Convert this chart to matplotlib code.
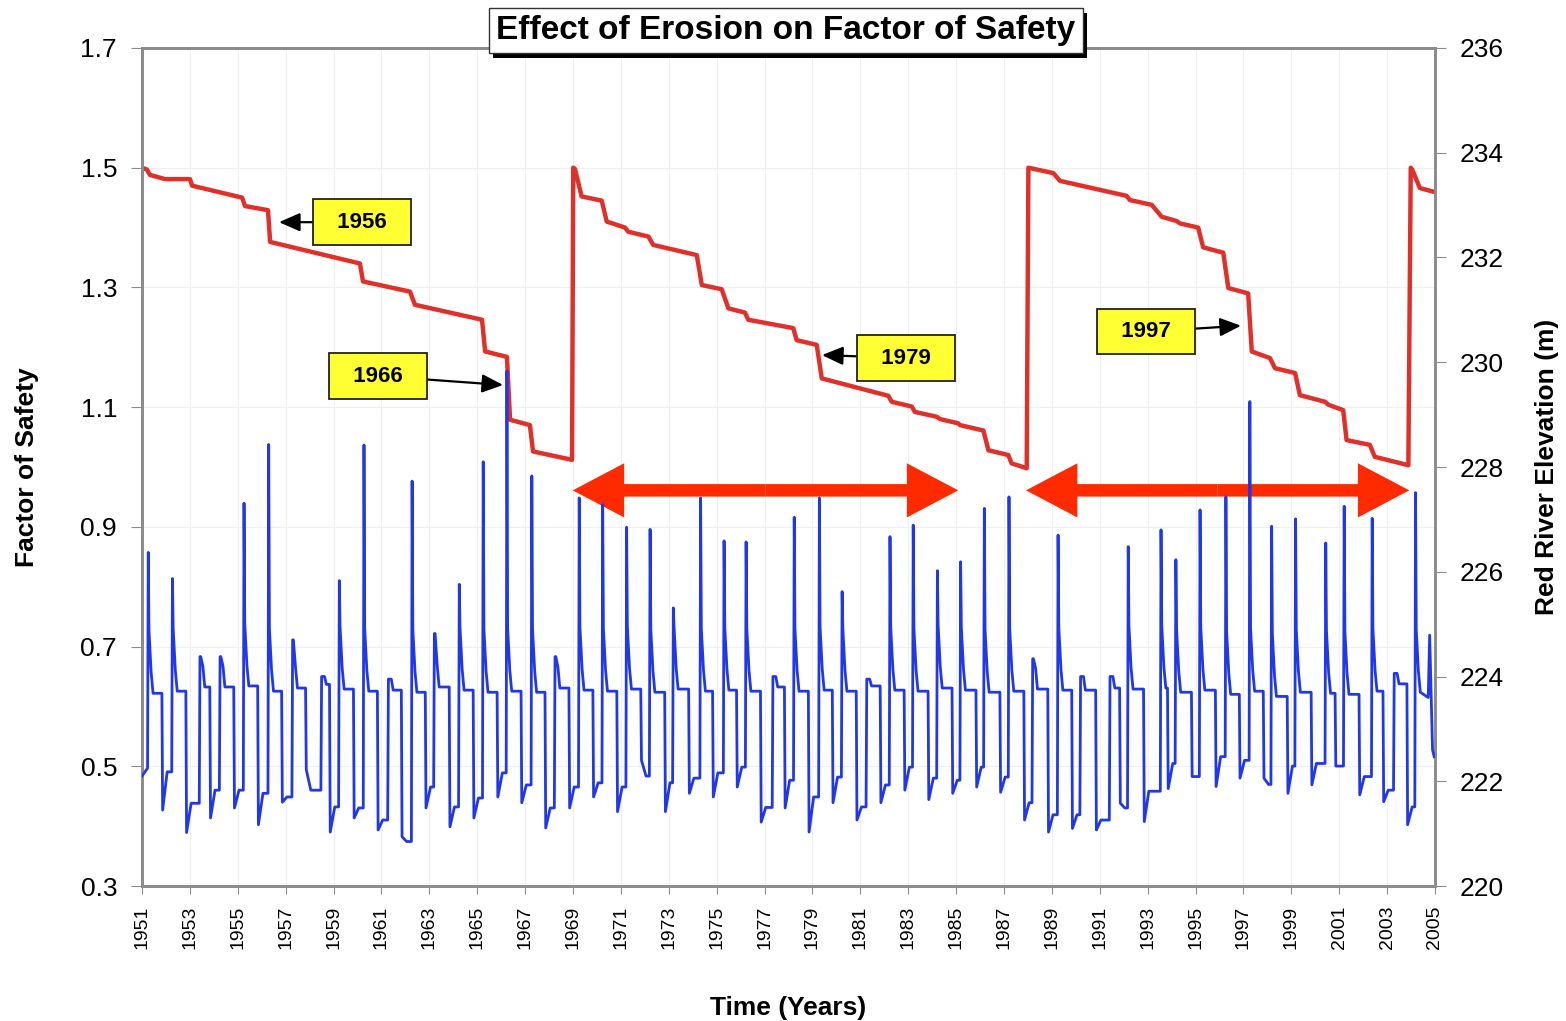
import numpy as np
import matplotlib
matplotlib.use('Agg')
import matplotlib.pyplot as plt
import matplotlib.patheffects as pe

plt.rcParams['font.family'] = ['Liberation Sans', 'DejaVu Sans']

# factor of safety (red line, left axis)
fos_years = [1951.00, 1951.20, 1951.33, 1951.96, 1953.00, 1953.09, 1955.18, 1955.30, 1956.26, 1956.35,
             1960.10, 1960.23, 1962.19, 1962.40, 1965.20, 1965.33, 1966.24, 1966.37, 1967.20, 1967.33,
             1968.96, 1969.01, 1969.08, 1969.36, 1970.20, 1970.41, 1971.17, 1971.31, 1972.15, 1972.35,
             1974.17, 1974.38, 1975.21, 1975.49, 1976.18, 1976.32, 1978.20, 1978.34, 1979.18, 1979.39,
             1982.17, 1982.31, 1983.15, 1983.28, 1984.19, 1984.33, 1985.09, 1985.16, 1986.14, 1986.35,
             1987.18, 1987.32, 1987.95, 1988.02, 1989.06, 1989.34, 1992.12, 1992.26, 1993.17, 1993.59,
             1994.21, 1994.35, 1995.11, 1995.32, 1996.16, 1996.37, 1997.20, 1997.35, 1998.11, 1998.32,
             1999.16, 1999.36, 2000.41, 2000.55, 2001.17, 2001.31, 2002.28, 2002.49, 2003.89, 2003.99,
             2004.05, 2004.37, 2004.93]
fos_values = [1.500, 1.497, 1.488, 1.481, 1.481, 1.470, 1.450, 1.436, 1.429, 1.376,
              1.340, 1.310, 1.293, 1.271, 1.246, 1.193, 1.184, 1.079, 1.070, 1.026,
              1.012, 1.500, 1.498, 1.452, 1.445, 1.410, 1.400, 1.393, 1.385, 1.371,
              1.354, 1.304, 1.297, 1.265, 1.258, 1.246, 1.232, 1.212, 1.204, 1.148,
              1.119, 1.109, 1.101, 1.092, 1.084, 1.080, 1.073, 1.070, 1.061, 1.028,
              1.020, 1.006, 0.998, 1.500, 1.491, 1.478, 1.453, 1.446, 1.438, 1.418,
              1.411, 1.407, 1.400, 1.367, 1.358, 1.299, 1.290, 1.193, 1.182, 1.165,
              1.157, 1.120, 1.109, 1.104, 1.095, 1.045, 1.037, 1.017, 1.003, 1.500,
              1.497, 1.466, 1.460]

# Red River elevation (blue line, right axis): one flood season per year
flood_years = list(range(1951, 2005))
peak_time = [1951.26, 1952.27, 1953.42, 1954.26, 1955.26, 1956.29, 1957.29, 1958.50, 1959.24, 1960.27,
             1961.29, 1962.28, 1963.21, 1964.25, 1965.25, 1966.24, 1967.28, 1968.25, 1969.26, 1970.24,
             1971.24, 1972.22, 1973.19, 1974.33, 1975.31, 1976.23, 1977.35, 1978.24, 1979.29, 1980.24,
             1981.27, 1982.24, 1983.21, 1984.22, 1985.19, 1986.18, 1987.21, 1988.20, 1989.26, 1990.20,
             1991.43, 1992.19, 1993.56, 1994.18, 1995.19, 1996.27, 1997.27, 1998.18, 1999.18, 2000.44,
             2001.21, 2002.38, 2003.30, 2004.19]
peak_elev = [226.37, 225.87, 224.38, 224.38, 227.31, 228.43, 224.70, 224.00, 225.83, 228.42,
             223.95, 227.73, 224.82, 225.76, 228.10, 229.83, 227.83, 224.38, 227.41, 227.28,
             226.85, 226.81, 225.31, 227.41, 226.59, 226.57, 224.00, 227.04, 227.41, 225.62,
             223.95, 226.67, 226.89, 226.02, 226.19, 227.21, 227.43, 224.34, 226.70, 224.00,
             224.00, 226.48, 226.80, 226.23, 227.18, 227.43, 229.25, 226.87, 227.01, 226.55,
             227.25, 227.02, 224.06, 227.51]
summer_elev = [223.68, 223.72, 223.80, 223.80, 223.82, 223.72, 223.78, 223.85, 223.76, 223.72,
               223.74, 223.70, 223.80, 223.74, 223.70, 223.72, 223.70, 223.78, 223.74, 223.72,
               223.76, 223.70, 223.76, 223.72, 223.74, 223.72, 223.80, 223.72, 223.74, 223.72,
               223.82, 223.74, 223.72, 223.78, 223.74, 223.70, 223.72, 223.76, 223.74, 223.74,
               223.78, 223.76, 223.78, 223.70, 223.74, 223.66, 223.72, 223.62, 223.70, 223.68,
               223.66, 223.72, 223.86, 223.70]
# level just after the autumn drop (1951 ... 2003)
fall_low = [221.45, 221.02, 221.30, 221.49, 221.17, 221.60, 222.22, 221.03, 221.30, 221.07,
            220.94, 221.49, 221.13, 221.30, 221.70, 221.59, 221.11, 221.49, 221.70, 221.42,
            222.40, 221.42, 221.77, 221.70, 221.89, 221.22, 221.49, 221.03, 221.59, 221.26,
            221.59, 221.83, 221.65, 221.77, 221.89, 221.79, 221.26, 221.03, 221.10, 221.07,
            221.58, 221.23, 221.86, 222.09, 221.90, 222.06, 222.06, 221.77, 221.93, 222.29,
            221.74, 221.61, 221.17]
# late-winter level before each spring peak (1951 ... 2004)
winter_elev = [222.25, 222.18, 221.58, 221.83, 221.83, 221.77, 221.70, 221.83, 221.51, 221.49,
               221.26, 220.85, 221.89, 221.51, 221.68, 222.16, 221.93, 221.49, 221.89, 221.97,
               221.89, 222.10, 221.97, 222.06, 222.16, 222.27, 221.50, 222.02, 221.70, 222.08,
               221.51, 221.93, 222.27, 222.06, 222.02, 222.27, 222.08, 221.59, 221.36, 221.36,
               221.26, 221.49, 221.81, 222.34, 222.09, 222.47, 222.40, 221.94, 222.29, 222.34,
               222.29, 222.09, 221.83, 221.51]
start_elev = 222.10
tail_years = [2004.72, 2004.78, 2004.83, 2004.90, 2004.97]
tail_elev = [223.60, 224.79, 223.90, 222.60, 222.47]

t = [1951.0]
e = [start_elev]
for i, yr in enumerate(flood_years):
    pt = peak_time[i]
    pk = peak_elev[i]
    s = summer_elev[i]
    t += [pt - 0.03, pt, pt + 0.03, pt + 0.12, pt + 0.2]
    e += [winter_elev[i], pk, min(pk, s + 1.2), min(pk, s + 0.4), s]
    if i < len(fall_low):
        t += [yr + 0.83, yr + 0.86, yr + 1.05]
        e += [s, fall_low[i], winter_elev[i + 1]]
t += tail_years
e += tail_elev

fig = plt.figure(figsize=(15.66, 10.21), dpi=100)
ax = fig.add_axes([0.0907, 0.1322, 0.8256, 0.8208])
ax2 = ax.twinx()

gray = '#8c8c8c'
ax.plot(fos_years, fos_values, color='#e0302a', lw=3.2, solid_joinstyle='round', zorder=3)
ax2.plot(t, e, color='#2038e8', lw=2.0, zorder=3)

ax.set_xlim(1951, 2005)
ax.set_ylim(0.3, 1.7)
ax2.set_ylim(220, 236)
ax.set_xticks(range(1951, 2006, 2))
ax.set_yticks(np.arange(0.3, 1.71, 0.2))
ax.set_yticklabels(['%.1f' % v for v in np.arange(0.3, 1.71, 0.2)])
ax2.set_yticks(range(220, 237, 2))
ax.tick_params(axis='x', labelrotation=90, labelsize=14, length=6, color=gray, pad=8)
ax.tick_params(axis='y', labelsize=19, length=8, color=gray, pad=10)
ax2.tick_params(axis='y', labelsize=19, length=8, color=gray, pad=10)
ax.grid(True, color='#efefef', lw=0.8)
for a in (ax, ax2):
    for sp in a.spines.values():
        sp.set_color(gray)
        sp.set_linewidth(2)

ax.set_xlabel('Time (Years)', fontsize=19, fontweight='bold', labelpad=34)
ax.set_ylabel('Factor of Safety', fontsize=19, fontweight='bold', labelpad=30)
ax2.set_ylabel('Red River Elevation (m)', fontsize=19, fontweight='bold', labelpad=22)

# double arrows marking the two periods
arrow_y = 0.961
for x0, x1 in [(1968.99, 1985.09), (1987.92, 2003.93)]:
    mid = (x0 + x1) / 2
    for tip in (x0, x1):
        ax.annotate('', xy=(tip, arrow_y), xytext=(mid, arrow_y),
                    arrowprops=dict(arrowstyle='simple,head_length=3.7,head_width=3.9,tail_width=0.9',
                                    mutation_scale=10, color='#ff2a00', lw=0, shrinkA=0, shrinkB=0),
                    zorder=2)

# year call-outs
callouts = [('1956', (1956.72, 1.409), (1960.19, 1.409)),
            ('1966', (1966.08, 1.137), (1960.86, 1.152)),
            ('1979', (1979.40, 1.187), (1982.91, 1.182)),
            ('1997', (1996.90, 1.236), (1992.93, 1.226))]
for label, tip, box in callouts:
    ax.annotate('  ' + label + '  ', xy=tip, xytext=box, ha='center', va='center',
                fontsize=16, fontweight='bold', zorder=5,
                bbox=dict(boxstyle='square,pad=0.55', fc='#ffff33', ec='#222222', lw=1.3),
                arrowprops=dict(arrowstyle='-|>,head_length=0.8,head_width=0.35', color='black',
                                lw=1.6, shrinkA=0, shrinkB=0))

# title box with a solid drop shadow
title = fig.text(786 / 1566, 1 - 30.5 / 1021, 'Effect of Erosion on Factor of Safety',
                 ha='center', va='center', fontsize=24, fontweight='bold', zorder=10,
                 bbox=dict(boxstyle='square,pad=0.22', fc='white', ec='#333333', lw=1))
title.get_bbox_patch().set_path_effects([
    pe.SimplePatchShadow(offset=(3, -3.5), shadow_rgbFace='black', alpha=1.0),
    pe.Normal()])

fig.savefig('out.png', dpi=100)
